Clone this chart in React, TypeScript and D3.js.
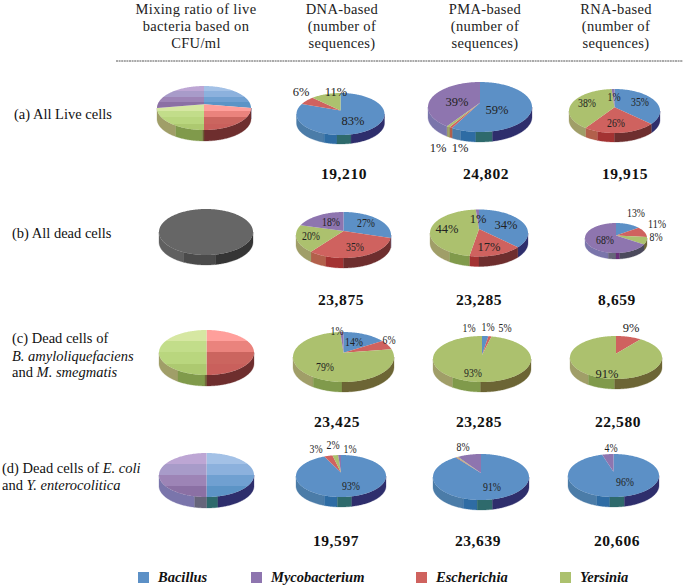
import * as d3 from 'd3';

const seriesKeys = ['Bacillus', 'Escherichia', 'Yersinia', 'Mycobacterium', 'Dead'];
const legendOrder = ['Bacillus', 'Mycobacterium', 'Escherichia', 'Yersinia'];

const columnTitles = [
    ['Mixing ratio of live', 'bacteria based on', 'CFU/ml'],
    ['DNA-based', '(number of', 'sequences)'],
    ['PMA-based', '(number of', 'sequences)'],
    ['RNA-based', '(number of', 'sequences)'],
];

// clockwise from 12 o'clock: Bacillus, Escherichia, Yersinia, Mycobacterium, dead (grey)
const mixValues = [[25, 25, 25, 25, 0], [0, 0, 0, 0, 100], [0, 50, 50, 0, 0], [50, 0, 0, 50, 0]];
const dnaValues = [[83, 6, 11, 0, 0], [27, 35, 20, 18, 0], [14, 6, 79, 1, 0], [93, 3, 2, 1, 0]];
const pmaValues = [[59, 1, 1, 39, 0], [34, 17, 44, 1, 0], [2, 1, 93, 0, 0], [91, 0.4, 0.4, 8, 0]];
const rnaValues = [[35, 26, 38, 1, 0], [13, 11, 8, 68, 0], [0, 9, 91, 0, 0], [96, 0, 0, 4, 0]];

const dnaTotals = ['19,210', '23,875', '23,425', '19,597'];
const pmaTotals = ['24,802', '23,285', '23,285', '23,639'];
const rnaTotals = ['19,915', '8,659', '22,580', '20,606'];

const dnaLabels = [['83%', '6%', '11%'], ['27%', '35%', '20%', '18%'], ['14%', '6%', '1%', '79%'], ['93%', '3%', '2%', '1%']];
const pmaLabels = [['59%', '39%', '1%', '1%'], ['34%', '17%', '44%', '1%'], ['1%', '1%', '5%', '93%'], ['91%', '8%']];
const rnaLabels = [['35%', '26%', '38%', '1%'], ['13%', '11%', '8%', '68%'], ['9%', '91%'], ['96%', '4%']];

// layout only from here down
const WIDTH = 685, HEIGHT = 587;

// cx, cy, rx, ry, depth
const mixPies = [[204, 108, 47, 22, 11], [206, 232, 47, 23, 10], [206.5, 352.5, 47.5, 22.5, 11], [206.5, 475, 47.5, 22, 11]];
const dnaPies = [[340.5, 114, 44, 21, 9], [343.5, 235, 47.5, 23, 10], [343.5, 357, 50.5, 25, 10], [341, 476, 45, 21, 10]];
const pmaPies = [[480, 107, 52, 25, 10], [479, 233, 49, 23.5, 10], [482, 359, 49, 23, 10], [481, 477, 48, 23, 10]];
const rnaPies = [[614.5, 111, 45.5, 22, 9], [616, 238, 31, 15, 6], [616, 357.5, 46, 21.5, 10], [613.5, 475.5, 45.5, 21.5, 10]];

const dnaLabelPos = [[[353, 121], [301, 92], [336, 92]], [[366, 223], [355, 247], [311, 236], [331, 222]], [[354, 342], [389, 340], [337, 331], [325, 367]], [[351, 486], [316, 449], [333, 445], [350, 449]]];
const pmaLabelPos = [[[497, 110], [457, 102], [438, 148], [460, 148]], [[506, 225], [489, 247], [447, 229], [478, 219]], [[469, 328], [488, 327], [505, 328], [473, 373]], [[492, 487], [463, 447]]];
const rnaLabelPos = [[[640, 102], [616, 123], [587, 103], [614, 97]], [[636, 213], [657, 224], [656, 237], [605, 240]], [[631, 328], [607, 374]], [[625, 482], [611, 448]]];

// the labels of these pies are squeezed horizontally in the figure
const dnaNarrow = [false, true, true, true];
const pmaNarrow = [false, false, true, true];
const rnaNarrow = [true, true, false, true];

const titleX = [196, 342, 485, 616];
const titleY = [14, 31, 48];
const dnaTotalX = [344, 341, 337, 336];
const pmaTotalX = [486, 479, 479, 478];
const rnaTotalX = [625, 617, 618, 617];
const totalY = [179, 305, 427, 546];
const legendSwatchX = [138, 251, 416, 560];
const legendTextX = [158, 271, 436, 580];

const faceColor: Record<string, string> = {
    Bacillus: '#5c90c6', Escherichia: '#cf625e', Yersinia: '#acc16e', Mycobacterium: '#8e75af', Dead: '#666666',
};
const mixBands: Record<string, string[]> = {
    Bacillus: ['#a3c1e6', '#8cb1dd', '#6fa0d1', '#5b94c6'],
    Escherichia: ['#ff9f9b', '#ea837d', '#cb655f', '#c9605c'],
    Yersinia: ['#d6e7a2', '#c2dd8a', '#b9d67e', '#adc970'],
    Mycobacterium: ['#bda6d4', '#a89bc9', '#9d84b6', '#8b6fa4'],
};
// where along the front wall (-1 left rim .. 1 right rim) the shading changes
const sideStops: Record<string, number[]> = {
    Bacillus: [-0.37, -0.08, 0.24],
    Escherichia: [-0.37, 0],
    Yersinia: [-0.6, -0.03],
    Mycobacterium: [-0.25, 0, 0.12],
    Dead: [-0.48, 0.2],
};
const sideColors: Record<string, string[]> = {
    Bacillus: ['#4b7ba8', '#2f6ca4', '#2f6a6c', '#2f2f6c'],
    Escherichia: ['#b2604c', '#a33232', '#6e2f2f'],
    Yersinia: ['#a09e68', '#809a4c', '#6c6534'],
    Mycobacterium: ['#7a75ab', '#66657a', '#6b2f7a', '#4c4a5c'],
    Dead: ['#616161', '#4b4b4b', '#343434'],
};

const pieGen = d3.pie<number>().sort(null);
const pathLine = d3.line();

function Pie3D({ spec, values, banded }: { spec: number[]; values: number[]; banded?: boolean }) {
    const [cx, cy, rx, ry, depth] = spec;
    const apexY = cy - ry * 0.17;
    const rim = (a: number, dz = 0): [number, number] => [cx + rx * Math.sin(a), cy - ry * Math.cos(a) + dz];
    const sweep = (a0: number, a1: number) => [...d3.range(a0, a1, 0.02), a1];

    const arcs = pieGen(values).map((d, i) => ({ ...d, key: seriesKeys[i] })).filter(d => d.value > 0);

    const walls: { d: string; fill: string }[] = [];
    arcs.forEach(arc => {
        const lo = Math.max(arc.startAngle, Math.PI / 2);
        const hi = Math.min(arc.endAngle, Math.PI * 1.5);
        if (hi <= lo) return;
        // stop angles run left to right on screen, which is from 3pi/2 down to pi/2
        const edges = [Math.PI * 1.5, ...sideStops[arc.key].map(f => Math.PI - Math.asin(f)), Math.PI / 2];
        sideColors[arc.key].forEach((fill, b) => {
            const a1 = Math.min(hi, edges[b]);
            const a0 = Math.max(lo, edges[b + 1]);
            if (a1 <= a0) return;
            const top = sweep(a0, a1).map(a => rim(a));
            const bottom = sweep(a0, a1).reverse().map(a => rim(a, depth));
            walls.push({ d: pathLine([...top, ...bottom]) + 'Z', fill });
        });
    });

    return (
        <g filter="url(#soft)">
            {walls.map((w, i) => <path key={i} d={w.d} fill={w.fill} stroke={w.fill} strokeWidth={0.3} />)}
            {arcs.map(arc => {
                const fill = banded && mixBands[arc.key] ? `url(#band-${arc.key})` : faceColor[arc.key];
                const pts = [[cx, apexY] as [number, number], ...sweep(arc.startAngle, arc.endAngle).map(a => rim(a))];
                return <path key={arc.key} d={pathLine(pts) + 'Z'} fill={fill} />;
            })}
        </g>
    );
}

function PieLabels({ labels, pos, narrow }: { labels: string[]; pos: number[][]; narrow: boolean }) {
    return (
        <g fontFamily="'Liberation Serif', serif" fontSize={narrow ? 13.5 : 12.5} fill="#222" textAnchor="middle">
            {labels.map((t, i) => (
                <text key={i} x={pos[i][0]} y={pos[i][1] + 4}
                    textLength={narrow ? (t.length - 1) * 5 + 8 : undefined}
                    lengthAdjust={narrow ? 'spacingAndGlyphs' : undefined}>{t}</text>
            ))}
        </g>
    );
}

export default function App() {
    const pieRows = [0, 1, 2, 3];
    return (
        <svg width={WIDTH} height={HEIGHT} style={{ position: 'absolute', left: 0, top: 0 }} fontFamily="'Liberation Serif', serif">
            <defs>
                <filter id="soft" x="-5%" y="-5%" width="110%" height="110%">
                    <feGaussianBlur stdDeviation={0.5} />
                </filter>
                {Object.keys(mixBands).map(key => (
                    <linearGradient key={key} id={`band-${key}`} x1="0" y1="0" x2="0" y2="1">
                        {mixBands[key].flatMap((c, i) => [
                            <stop key={`${i}a`} offset={i / 4} stopColor={c} />,
                            <stop key={`${i}b`} offset={(i + 1) / 4} stopColor={c} />,
                        ])}
                    </linearGradient>
                ))}
            </defs>

            {columnTitles.map((lines, c) => lines.map((line, l) => (
                <text key={`${c}-${l}`} x={titleX[c]} y={titleY[l]} textAnchor="middle" fontSize={14.5} letterSpacing={0.35} fill="#222">{line}</text>
            )))}
            <line x1={116} x2={683} y1={61} y2={61} stroke="#555" strokeWidth={1} strokeDasharray="2 0.6" />

            <g fontSize={14.5} fill="#111">
                <text x={14} y={119}>(a) All Live cells</text>
                <text x={12} y={238}>(b) All dead cells</text>
                <text x={12} y={343}>(c) Dead cells of</text>
                <text x={12} y={361} fontStyle="italic">B. amyloliquefaciens</text>
                <text x={12} y={377}>and <tspan fontStyle="italic">M. smegmatis</tspan></text>
                <text x={2} y={473}>(d) Dead cells of <tspan fontStyle="italic">E. coli</tspan></text>
                <text x={2} y={490}>and <tspan fontStyle="italic">Y. enterocolitica</tspan></text>
            </g>

            {pieRows.map(r => (
                <g key={r}>
                    <Pie3D spec={mixPies[r]} values={mixValues[r]} banded />
                    <Pie3D spec={dnaPies[r]} values={dnaValues[r]} />
                    <Pie3D spec={pmaPies[r]} values={pmaValues[r]} />
                    <Pie3D spec={rnaPies[r]} values={rnaValues[r]} />
                    <PieLabels labels={dnaLabels[r]} pos={dnaLabelPos[r]} narrow={dnaNarrow[r]} />
                    <PieLabels labels={pmaLabels[r]} pos={pmaLabelPos[r]} narrow={pmaNarrow[r]} />
                    <PieLabels labels={rnaLabels[r]} pos={rnaLabelPos[r]} narrow={rnaNarrow[r]} />
                    <g fontSize={15.5} fontWeight="bold" textAnchor="middle" letterSpacing={0.6} fill="#111">
                        <text x={dnaTotalX[r]} y={totalY[r]}>{dnaTotals[r]}</text>
                        <text x={pmaTotalX[r]} y={totalY[r]}>{pmaTotals[r]}</text>
                        <text x={rnaTotalX[r]} y={totalY[r]}>{rnaTotals[r]}</text>
                    </g>
                </g>
            ))}

            {legendOrder.map((name, i) => (
                <g key={name}>
                    <rect x={legendSwatchX[i]} y={572} width={11} height={11} fill={faceColor[name]} />
                    <text x={legendTextX[i]} y={582} fontSize={14.5} fontWeight="bold" fontStyle="italic" fill="#111">{name}</text>
                </g>
            ))}
        </svg>
    );
}
